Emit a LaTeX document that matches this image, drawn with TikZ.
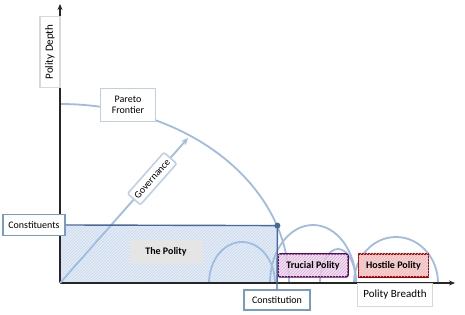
\documentclass[tikz,border=0pt]{standalone}
\usepackage{fontspec}
\setmainfont{Carlito}
\usepackage{xcolor}
\usepackage{tikz}
\usetikzlibrary{arrows.meta, positioning, patterns}
\definecolor{arcblue}{RGB}{160,188,222}
\definecolor{edgeblue}{RGB}{70,105,155}
\definecolor{tagblue}{RGB}{120,155,200}
\definecolor{polityfill}{RGB}{228,236,246}
\definecolor{trucialfill}{RGB}{238,212,236}
\definecolor{hostilefill}{RGB}{238,212,212}
\tikzset{
  axis/.style={-{Stealth[length=6pt,width=5pt]}, line width=1.4pt, black!85},
  frontier/.style={draw=arcblue, line width=1.8pt},
  hump/.style={draw=arcblue, line width=1.8pt},
  edge/.style={draw=edgeblue, line width=1.4pt},
  tag/.style={draw=arcblue!70, line width=1.6pt, fill=white, align=center, inner sep=3pt, font=\fontsize{10}{11.5}\selectfont},
  axistag/.style={tag, draw=black!15, font=\fontsize{11}{13}\selectfont},
  sidetag/.style={tag, draw=tagblue, line width=1.8pt},
  polity/.style={anchor=south west, inner sep=0pt, fill=polityfill, postaction={pattern=north east lines, pattern color=arcblue!60}},
  state/.style={minimum width=70pt, minimum height=23pt, inner sep=0pt, line width=1.5pt, rounded corners=2pt, font=\bfseries\fontsize{10}{11}\selectfont},
  govarrow/.style={-{Stealth[length=7pt,width=6pt]}, draw=arcblue, line width=1.8pt}
}

\begin{document}
\begin{tikzpicture}[x=1pt, y=1pt]
        \useasboundingbox (0,0) rectangle (465,315);
        \coordinate (O) at (60,32);

        % Polity region
        \node[polity, minimum width=217pt, minimum height=57pt] (region) at (O) {};

        % Humps on the breadth axis
        \foreach \cx/\rx/\ry in {242/33/41, 313/43/58, 338/18/34, 396/42/46}
            \draw[hump] (\cx+\rx,32) arc[start angle=0, end angle=180, x radius=\rx pt, y radius=\ry pt];

        % Pareto frontier
        \draw[frontier] (60,211) arc[start angle=90, end angle=0, x radius=229pt, y radius=179pt];

        % Other polities
        \node[state, draw=violet!70!black, fill=trucialfill, fill opacity=0.75, text opacity=1,
              postaction={pattern=north east lines, pattern color=violet!30}] (trucial) at (313,49.5) {Trucial Polity};
        \node[state, draw=red!65!black, fill=hostilefill, rounded corners=0pt,
              postaction={pattern=north east lines, pattern color=red!30}] (hostile) at (393.5,49.5) {Hostile Polity};

        % Axes
        \draw[axis] (O) -- (60,311);
        \draw[axis] (O) -- (455,32);
        \node[axistag, rotate=90, minimum width=71pt, minimum height=20pt] (depth) at (50,263) {Polity Depth};
        \node[axistag, minimum width=75pt, minimum height=23pt] (breadth) at (395,20) {Polity Breadth};

        % Governance
        \coordinate (govtip) at (188,177);
        \draw[govarrow] (O) -- (govtip)
            node[tag, sloped, pos=0.72, rounded corners=2pt, minimum height=17pt] (gov) {Governance};

        % Labels and edges
        \node[tag, minimum width=55pt, minimum height=33pt] (pareto) at (128,210) {Pareto\\Frontier};
        \node[sidetag, minimum width=62pt, minimum height=21pt] (constituents) at (34,90) {Constituents};
        \node[sidetag, minimum width=66pt, minimum height=20pt] (constitution) at (277,15) {Constitution};
        \draw[edge] (constituents.east) -- (region.north east) -- (constitution.north);
        \fill[edgeblue] (region.north east) circle (3pt);
        \node[fill=black!10, minimum width=73pt, minimum height=24pt, font=\bfseries\fontsize{10}{11}\selectfont] (thepolity) at (166,63) {The Polity};
    \end{tikzpicture}
\end{document}
